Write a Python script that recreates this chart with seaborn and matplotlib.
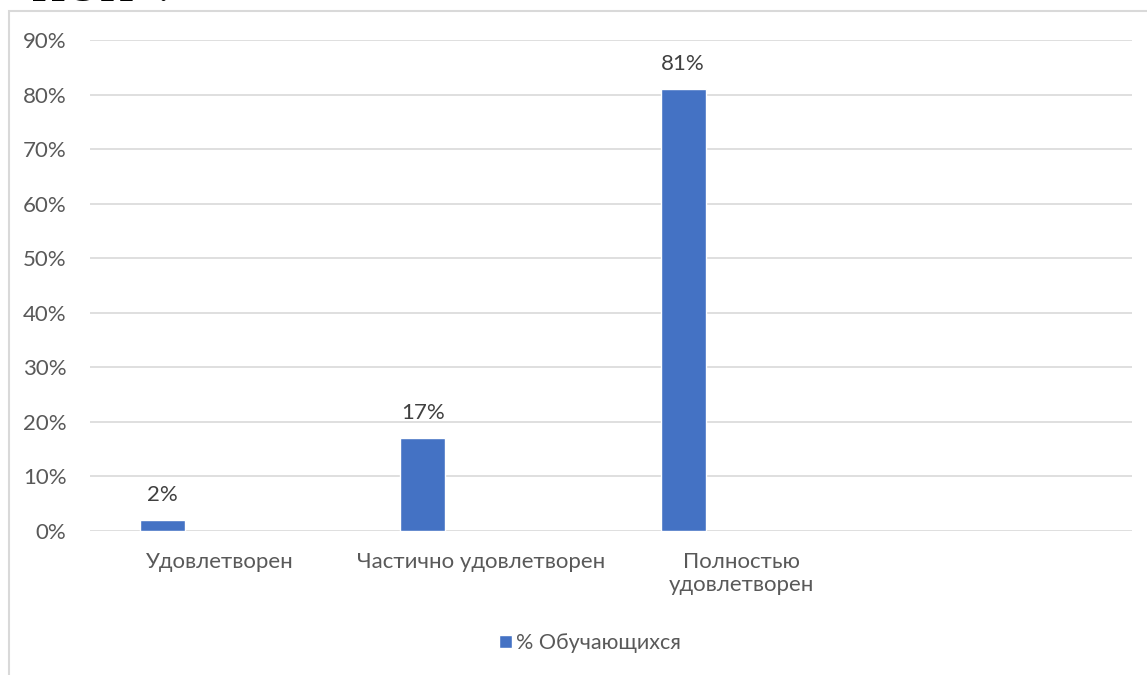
import matplotlib
matplotlib.use("Agg")
import matplotlib.pyplot as plt
import seaborn as sns
import pandas as pd
from matplotlib.patches import Rectangle
from matplotlib.ticker import PercentFormatter, MultipleLocator

# данные диаграммы
categories = ["Удовлетворен", "Частично удовлетворен", "Полностью\nудовлетворен", ""]
values = [0.02, 0.17, 0.81, None]
series_name = "% Обучающихся"
value_labels = ["2%", "17%", "81%"]

BLUE = "#4472C4"
GRID = "#D9D9D9"
TEXT = "#595959"

sns.set_theme(style="white")
plt.rcParams["font.family"] = ["Lato", "DejaVu Sans"]

df = pd.DataFrame({"category": categories, "value": values, "series": series_name})

fig = plt.figure(figsize=(11.47, 6.75), dpi=100)
ax = fig.add_axes([90 / 1147, 1 - 531 / 675, (1132 - 90) / 1147, (531 - 40) / 675])

sns.barplot(data=df, x="category", y="value", hue="series", order=categories,
            palette=[BLUE], width=45 / 260.5, saturation=1, ax=ax, legend=True)

# сдвиг столбцов влево внутри категории, как в кластерной диаграмме Excel
shift = 58 / 260.5
for p in ax.patches:
    p.set_x(p.get_x() - shift)

bars = [p for p in ax.patches if p.get_height() > 0]
for p, lab in zip(bars, value_labels):
    ax.annotate(lab, (p.get_x() + p.get_width() / 2, p.get_height()),
                xytext=(0, 18), textcoords="offset points", ha="center", va="center",
                fontsize=16, color="#404040")

ax.set_ylim(0, 0.9)
ax.set_xlim(-0.5, len(categories) - 0.5)
ax.yaxis.set_major_locator(MultipleLocator(0.1))
ax.yaxis.set_major_formatter(PercentFormatter(1.0, decimals=0))
ax.grid(axis="y", color=GRID, linewidth=1.2)
ax.set_axisbelow(True)
for s in ax.spines.values():
    s.set_visible(False)
ax.set_xlabel("")
ax.set_ylabel("")
ax.tick_params(axis="y", length=0, pad=17, labelsize=16, labelcolor=TEXT)
ax.tick_params(axis="x", length=0, pad=15, labelsize=16, labelcolor=TEXT)

leg = ax.legend(loc="center", bbox_to_anchor=(590 / 1147, 1 - 643 / 675),
                bbox_transform=fig.transFigure, frameon=False, fontsize=15.5,
                handlelength=0.6, handleheight=0.6, handletextpad=0.2)
for t in leg.get_texts():
    t.set_color(TEXT)

# рамка области диаграммы
fig.patches.append(Rectangle((9 / 1147, -0.1), 1.2, 1 - 11 / 675 + 0.1,
                             transform=fig.transFigure, fill=False,
                             edgecolor=GRID, linewidth=1.5))

# обрезанный текст документа над диаграммой
fig.text(8 / 1147, 1 - 1 / 675, "«ИОН».", fontsize=34, family="Liberation Serif",
         ha="left", va="baseline", color="black")

fig.savefig("out.png", dpi=100)
